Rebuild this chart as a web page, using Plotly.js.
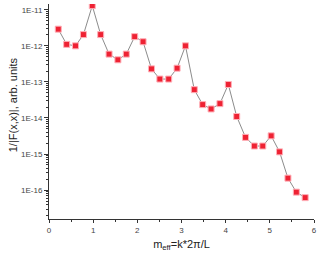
<!DOCTYPE html>
<html>
<head>
<meta charset="utf-8">
<script src="https://cdn.plot.ly/plotly-3.0.1.min.js"></script>
<style>html,body{margin:0;padding:0;background:#fff;}#chart{width:320px;height:257px;}</style>
</head>
<body>
<div id="chart"></div>
<script>
var mEff = [0.21,0.40,0.60,0.78,0.98,1.17,1.36,1.56,1.75,1.94,2.13,2.32,2.51,2.71,2.90,3.09,3.29,3.48,3.67,3.87,4.06,4.25,4.45,4.65,4.84,5.03,5.22,5.41,5.60,5.80];
var invF = [2.9e-12,1.1e-12,1.0e-12,2.05e-12,1.3e-11,2.05e-12,5.9e-13,4.1e-13,5.9e-13,1.8e-12,1.3e-12,2.3e-13,1.2e-13,1.2e-13,2.4e-13,1.0e-12,6.1e-14,2.35e-14,1.78e-14,2.5e-14,8.5e-14,1.1e-14,2.9e-15,1.67e-15,1.67e-15,3.2e-15,1.15e-15,2.15e-16,8.8e-17,6.2e-17];
var yTickVals = [1e-16,1e-15,1e-14,1e-13,1e-12,1e-11];
var yTickText = ['1E-16','1E-15','1E-14','1E-13','1E-12','1E-11'];
var xTickVals = [0,1,2,3,4,5,6];
var xTickText = ['0','1','2','3','4','5','6'];

var yMinor = [];
for (var e = -17; e <= -11; e++) {
  for (var k = 2; k <= 9; k++) yMinor.push(k * Math.pow(10, e));
}

var trace = {
  x: mEff, y: invF, type: 'scatter', mode: 'lines+markers',
  line: {color: '#8c8c8c', width: 1},
  marker: {symbol: 'square', size: 6, color: '#ee2233', line: {color: '#ffb0b8', width: 1}},
  showlegend: false
};

var layout = {
  width: 320, height: 257,
  margin: {l: 49, r: 6, t: 4, b: 38},
  paper_bgcolor: '#fff', plot_bgcolor: '#fff',
  font: {family: 'Liberation Sans, Arial, sans-serif', color: '#333'},
  xaxis: {
    range: [0, 6], showgrid: false, zeroline: false,
    showline: true, linecolor: '#333', linewidth: 1,
    ticks: 'outside', ticklen: 3, tickcolor: '#333',
    tickmode: 'array', tickvals: xTickVals, ticktext: xTickText,
    tickfont: {size: 8, color: '#444'},
    minor: {ticks: 'outside', ticklen: 2, tickcolor: '#333', dtick: 0.5, tick0: 0},
    title: {text: 'm<sub>eff</sub>=k*2\u03c0/L', font: {size: 11, color: '#222'}, standoff: 6}
  },
  yaxis: {
    type: 'log', range: [-16.8, -10.84], showgrid: false, zeroline: false,
    showline: true, linecolor: '#333', linewidth: 1,
    ticks: 'outside', ticklen: 4, tickcolor: '#333',
    tickmode: 'array', tickvals: yTickVals, ticktext: yTickText,
    tickfont: {size: 8, color: '#444'},
    minor: {ticks: 'outside', ticklen: 2, tickcolor: '#333', tickmode: 'array', tickvals: yMinor}
  },
  annotations: [{
    xref: 'paper', yref: 'paper', x: -0.135, y: 0.53, xanchor: 'center', yanchor: 'middle',
    text: '1/|F(x,x)|, arb. units', textangle: -90, showarrow: false,
    font: {size: 11, color: '#222'}
  }]
};

Plotly.newPlot('chart', [trace], layout, {staticPlot: true, displayModeBar: false});
</script>
</body>
</html>
